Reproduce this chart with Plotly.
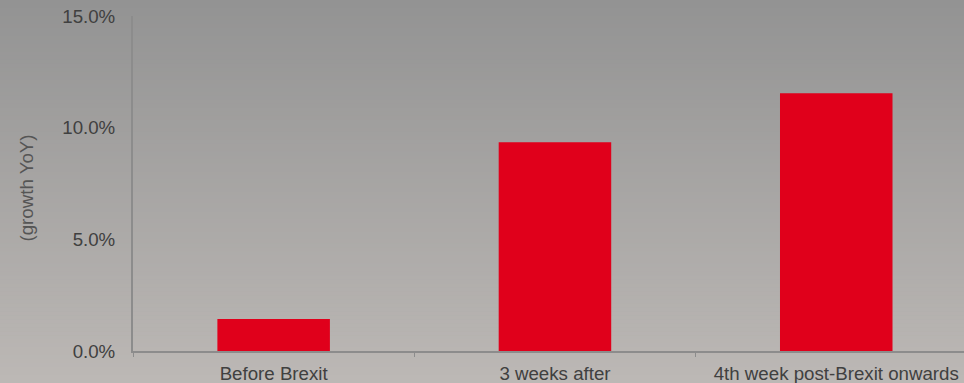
import plotly.graph_objects as go

categories = ["Before Brexit", "3 weeks after", "4th week post-Brexit onwards"]
growth_yoy = [0.0143, 0.0935, 0.1154]
y_ticks = [0.0, 0.05, 0.10, 0.15]
y_title = "(growth YoY)"

W, H = 964, 383
L, R, T, B = 133, 0, 16, 32
pw, ph = W - L - R, H - T - B

fig = go.Figure()
fig.add_trace(go.Bar(x=categories, y=growth_yoy, marker=dict(color="#e0001b", line=dict(width=0)),
                     width=0.4, hoverinfo="skip"))

# gradient background bands
top = (147, 147, 147)
bot = (188, 184, 181)
n = 96
shapes = []
for i in range(n):
    f = i / (n - 1)
    c = tuple(round(top[k] + (bot[k] - top[k]) * f) for k in range(3))
    y_top_px = i * H / n
    y_bot_px = (i + 1) * H / n + 0.6
    y1 = 1 - (y_top_px - T) / ph
    y0 = 1 - (y_bot_px - T) / ph
    shapes.append(dict(type="rect", xref="paper", yref="paper", x0=-L / pw - 0.01, x1=1 + 0.01,
                       y0=y0, y1=y1, fillcolor="rgb(%d,%d,%d)" % c, line=dict(width=0), layer="below"))

FS = 18.7
fig.update_layout(
    width=W, height=H,
    margin=dict(l=L, r=R, t=T, b=B, pad=0),
    paper_bgcolor="rgb(168,166,164)",
    plot_bgcolor="rgba(0,0,0,0)",
    shapes=shapes,
    showlegend=False,
    font=dict(family="Liberation Sans, Arial, sans-serif", size=FS, color="#404040"),
    xaxis=dict(
        range=[-0.5, -0.5 + pw / 281.3],
        showline=True, linecolor="#8c8c8c", linewidth=2,
        ticks="outside", tickson="boundaries", ticklen=4, tickwidth=1, tickcolor="#8c8c8c",
        showgrid=False, zeroline=False, ticklabelstandoff=5,
        tickfont=dict(size=FS, color="#404040"),
    ),
    yaxis=dict(
        range=[0, 0.15], tickvals=y_ticks, tickformat=".1%",
        showline=True, linecolor="#8c8c8c", linewidth=2,
        ticks="", showgrid=False, zeroline=False, ticklabelstandoff=12,
        tickfont=dict(size=FS, color="#404040"),
    ),
    annotations=[dict(text=y_title, xref="paper", yref="paper",
                      x=(26 - L) / pw, y=1 - (188.5 - T) / ph,
                      xanchor="center", yanchor="middle", textangle=-90, showarrow=False,
                      font=dict(size=FS, color="#555555"))],
    bargap=0.6,
)

fig.write_html("out.html")
